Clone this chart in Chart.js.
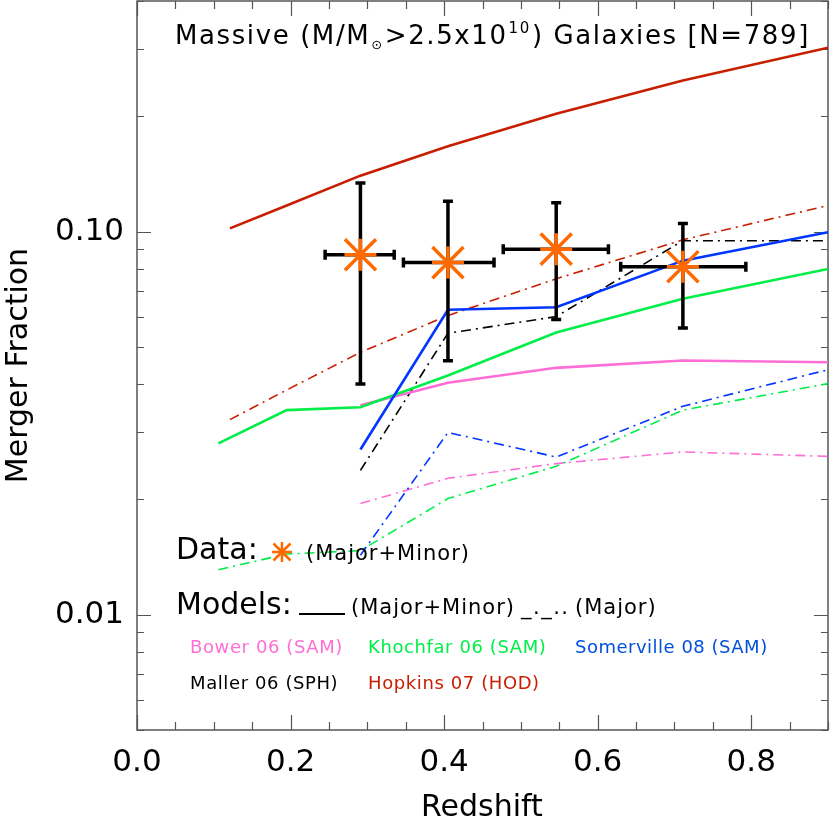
<!DOCTYPE html>
<html>
<head>
<meta charset="utf-8">
<script src="https://cdn.jsdelivr.net/npm/chart.js@4.4.1/dist/chart.umd.min.js"></script>
<style>
    html, body { margin: 0; padding: 0; background: #fff; }
    #wrap { width: 830px; height: 820px; }
</style>
</head>
<body>
<div id="wrap"><canvas id="mergerChart" width="830" height="820"></canvas></div>
<script>
/* Observed merger fractions (Major+Minor) */
var dataZ = [0.291, 0.405, 0.546, 0.711];
var dataZLo = [0.245, 0.347, 0.477, 0.630];
var dataZHi = [0.335, 0.465, 0.614, 0.793];
var dataFrac = [0.087, 0.083, 0.090, 0.081];
var dataFracLo = [0.040, 0.046, 0.059, 0.056];
var dataFracHi = [0.134, 0.120, 0.119, 0.105];

/* Model redshifts */
var khochfarZ = [0.106, 0.195, 0.291, 0.405, 0.546, 0.711, 0.9];
var hopkinsZ = [0.121, 0.195, 0.291, 0.405, 0.546, 0.711, 0.9];
var samZ = [0.291, 0.405, 0.546, 0.711, 0.9];

/* Model merger fractions */
var hopkinsAll = [0.102, 0.117, 0.140, 0.167, 0.203, 0.248, 0.302];
var hopkinsMajor = [0.0323, 0.0386, 0.0484, 0.0604, 0.0753, 0.0952, 0.117];
var khochfarAll = [0.0280, 0.0342, 0.0348, 0.0421, 0.0545, 0.0668, 0.0799];
var khochfarMajor = [0.0131, 0.0144, 0.0147, 0.0201, 0.0244, 0.0342, 0.0401];
var bowerAll = [0.0352, 0.0403, 0.0441, 0.0461, 0.0456];
var bowerMajor = [0.0195, 0.0227, 0.0248, 0.0266, 0.0259];
var somervilleAll = [0.0270, 0.0625, 0.0635, 0.0840, 0.0996];
var somervilleMajor = [0.0143, 0.0299, 0.0258, 0.0350, 0.0436];
var mallerMajor = [0.0238, 0.0543, 0.0600, 0.0947, 0.0947];

/* Tick values */
var xLabelTicks = [0.0, 0.2, 0.4, 0.6, 0.8];
var yLabelTicks = [0.01, 0.1];

/* Colors */
var pink = '#ff6ed6';
var green = '#00ee48';
var blue = '#0036ff';
var red = '#c81e00';
var orange = '#ff6a00';
var textBlue = '#0050dc';
var dashDot = [10, 5, 2, 5];
var fontName = '"DejaVu Sans", sans-serif';

/* Pair x and y arrays for the library */
function pairs(xs, ys) {
    return ys.map(function(v, i) { return { x: xs[i], y: v }; });
}

function modelLine(xs, ys, color, major) {
    return {
        data: pairs(xs, ys),
        borderColor: color,
        borderWidth: major ? 1.6 : 2.6,
        borderDash: major ? dashDot : [],
        pointRadius: 0,
        tension: 0
    };
}

// Asterisk marker = a "+" and an "x" drawn on the same points
function starPart(style, radius) {
    return {
        data: pairs(dataZ, dataFrac),
        showLine: false,
        pointStyle: style,
        pointRadius: radius,
        pointBorderWidth: 3.5,
        pointBorderColor: orange,
        pointBackgroundColor: orange
    };
}

/* Text with a bit of extra letter spacing, like the original plot font */
function spacedText(ctx, text, x, y, spacing) {
    ctx.letterSpacing = spacing + 'px';
    ctx.fillText(text, x, y);
    var w = ctx.measureText(text).width;
    ctx.letterSpacing = '0px';
    return w;
}

/* Ticks inside the frame, error bars and all the annotation text */
var decorPlugin = {
    id: 'decor',
    beforeDatasetsDraw: function(chart) {
        var ctx = chart.ctx, a = chart.chartArea;
        var xs = chart.scales.x, ys = chart.scales.y;
        ctx.save();
        ctx.strokeStyle = '#555';
        ctx.lineWidth = 1.2;
        ctx.beginPath();
        // x ticks every 0.05, long ones every 0.2
        for (var i = 0; i <= 18; i++) {
            var z = i * 0.05;
            var px = Math.round(xs.getPixelForValue(z)) + 0.5;
            var len = (i % 4 === 0) ? 15 : 8;
            ctx.moveTo(px, a.bottom); ctx.lineTo(px, a.bottom - len);
            ctx.moveTo(px, a.top); ctx.lineTo(px, a.top + len);
        }
        // y ticks on the log scale
        var decades = [0.001, 0.01, 0.1];
        decades.forEach(function(d) {
            for (var m = 1; m <= 9; m++) {
                var v = d * m;
                if (v < ys.min - 1e-9 || v > ys.max + 1e-9) continue;
                var py = Math.round(ys.getPixelForValue(v)) + 0.5;
                var len = (m === 1) ? 14 : 7;
                ctx.moveTo(a.left, py); ctx.lineTo(a.left + len, py);
                ctx.moveTo(a.right, py); ctx.lineTo(a.right - len, py);
            }
        });
        ctx.stroke();
        // frame
        ctx.strokeStyle = '#555';
        ctx.lineWidth = 1.5;
        ctx.strokeRect(a.left, a.top, a.right - a.left, a.bottom - a.top);
        ctx.restore();
    },
    beforeDatasetDraw: function(chart, args) {
        // star datasets are 0 and 1; 1 is drawn first
        if (args.index !== 1) return;
        var ctx = chart.ctx;
        var xs = chart.scales.x, ys = chart.scales.y;
        ctx.save();
        ctx.strokeStyle = '#000';
        ctx.lineWidth = 3.5;
        ctx.lineCap = 'butt';
        ctx.beginPath();
        for (var i = 0; i < dataZ.length; i++) {
            var cx = xs.getPixelForValue(dataZ[i]);
            var cy = ys.getPixelForValue(dataFrac[i]);
            var x0 = xs.getPixelForValue(dataZLo[i]);
            var x1 = xs.getPixelForValue(dataZHi[i]);
            var y0 = ys.getPixelForValue(dataFracLo[i]);
            var y1 = ys.getPixelForValue(dataFracHi[i]);
            ctx.moveTo(x0, cy); ctx.lineTo(x1, cy);
            ctx.moveTo(cx, y0); ctx.lineTo(cx, y1);
            ctx.moveTo(x0, cy - 5); ctx.lineTo(x0, cy + 5);
            ctx.moveTo(x1, cy - 5); ctx.lineTo(x1, cy + 5);
            ctx.moveTo(cx - 5, y0); ctx.lineTo(cx + 5, y0);
            ctx.moveTo(cx - 5, y1); ctx.lineTo(cx + 5, y1);
        }
        ctx.stroke();
        ctx.restore();
    },
    afterDraw: function(chart) {
        var ctx = chart.ctx, a = chart.chartArea;
        ctx.save();
        ctx.textBaseline = 'alphabetic';
        ctx.fillStyle = '#000';

        // Axis titles
        ctx.font = '30px ' + fontName;
        ctx.textAlign = 'center';
        ctx.fillText('Redshift', 482, 816);
        ctx.save();
        ctx.translate(27, (a.top + a.bottom) / 2);
        ctx.rotate(-Math.PI / 2);
        ctx.fillText('Merger Fraction', 0, 0);
        ctx.restore();
        ctx.textAlign = 'left';

        // Title with subscript sun and superscript exponent
        var parts = [
            ['Massive (M/M', 26, 0],
            ['\u2299', 13, 5],
            ['>2.5x10', 26, 0],
            ['10', 15, -11],
            [') Galaxies [N=789]', 26, 0]
        ];
        var tx = 175, ty = 44;
        parts.forEach(function(p) {
            ctx.font = p[1] + 'px ' + fontName;
            tx += spacedText(ctx, p[0], tx, ty + p[2], 1.6) + 1;
        });

        // Data row
        ctx.font = '30px ' + fontName;
        ctx.fillText('Data:', 176, 559);
        drawStar(ctx, 282, 552, 10, orange, 2.5);
        ctx.font = '21px ' + fontName;
        spacedText(ctx, '(Major+Minor)', 306, 560, 1);

        // Models row
        ctx.font = '30px ' + fontName;
        ctx.fillText('Models:', 176, 614);
        ctx.strokeStyle = '#000';
        ctx.lineWidth = 2;
        ctx.beginPath();
        ctx.moveTo(299, 614); ctx.lineTo(345, 614);
        ctx.stroke();
        ctx.font = '21px ' + fontName;
        spacedText(ctx, '(Major+Minor)', 351, 614, 1);
        spacedText(ctx, '_._..', 521, 614, 1.5);
        spacedText(ctx, '(Major)', 575, 614, 1);

        // Model names
        ctx.font = '18px ' + fontName;
        ctx.fillStyle = pink; spacedText(ctx, 'Bower 06 (SAM)', 190, 653, 0.6);
        ctx.fillStyle = green; spacedText(ctx, 'Khochfar 06 (SAM)', 368, 653, 0.6);
        ctx.fillStyle = textBlue; spacedText(ctx, 'Somerville 08 (SAM)', 575, 653, 0.5);
        ctx.fillStyle = '#000'; spacedText(ctx, 'Maller 06 (SPH)', 190, 689, 0.6);
        ctx.fillStyle = red; spacedText(ctx, 'Hopkins 07 (HOD)', 368, 689, 0.6);
        ctx.restore();
    }
};

/* Asterisk glyph used in the legend row */
function drawStar(ctx, x, y, r, color, w) {
    var d = r * 0.85;
    ctx.save();
    ctx.strokeStyle = color;
    ctx.lineWidth = w;
    ctx.beginPath();
    ctx.moveTo(x - r, y); ctx.lineTo(x + r, y);
    ctx.moveTo(x, y - r); ctx.lineTo(x, y + r);
    ctx.moveTo(x - d, y - d); ctx.lineTo(x + d, y + d);
    ctx.moveTo(x - d, y + d); ctx.lineTo(x + d, y - d);
    ctx.stroke();
    ctx.restore();
}

var ctx = document.getElementById('mergerChart');

var chart = new Chart(ctx, {
    type: 'line',
    data: {
        datasets: [
            starPart('crossRot', 22),
            starPart('cross', 16),
            modelLine(hopkinsZ, hopkinsAll, red, false),
            modelLine(samZ, somervilleAll, blue, false),
            modelLine(khochfarZ, khochfarAll, green, false),
            modelLine(samZ, bowerAll, pink, false),
            modelLine(samZ, mallerMajor, '#000', true),
            modelLine(hopkinsZ, hopkinsMajor, red, true),
            modelLine(samZ, somervilleMajor, blue, true),
            modelLine(khochfarZ, khochfarMajor, green, true),
            modelLine(samZ, bowerMajor, pink, true)
        ]
    },
    options: {
        responsive: false,
        animation: false,
        devicePixelRatio: 1,
        layout: {
            autoPadding: false,
            padding: { top: 1, right: 2, left: 0, bottom: 0 }
        },
        plugins: {
            legend: { display: false },
            tooltip: { enabled: false }
        },
        scales: {
            x: {
                type: 'linear',
                min: 0,
                max: 0.9,
                grid: { display: false, drawTicks: false },
                border: { display: false },
                afterBuildTicks: function(scale) {
                    scale.ticks = xLabelTicks.map(function(v) { return { value: v }; });
                },
                afterFit: function(scale) {
                    scale.height = 90;
                    scale.paddingLeft = 0;
                    scale.paddingRight = 0;
                },
                ticks: {
                    autoSkip: false,
                    maxRotation: 0,
                    padding: 14,
                    color: '#000',
                    font: { family: fontName, size: 31 },
                    callback: function(v) { return Number(v).toFixed(1); }
                }
            },
            y: {
                type: 'logarithmic',
                min: 0.005,
                max: 0.4,
                grid: { display: false, drawTicks: false },
                border: { display: false },
                afterBuildTicks: function(scale) {
                    scale.ticks = yLabelTicks.map(function(v) { return { value: v }; });
                },
                afterFit: function(scale) {
                    scale.width = 137;
                    scale.paddingTop = 0;
                    scale.paddingBottom = 0;
                },
                ticks: {
                    autoSkip: false,
                    padding: 13,
                    color: '#000',
                    font: { family: fontName, size: 31 },
                    callback: function(v) { return Number(v).toFixed(2); }
                }
            }
        }
    },
    plugins: [decorPlugin]
});
</script>
</body>
</html>
